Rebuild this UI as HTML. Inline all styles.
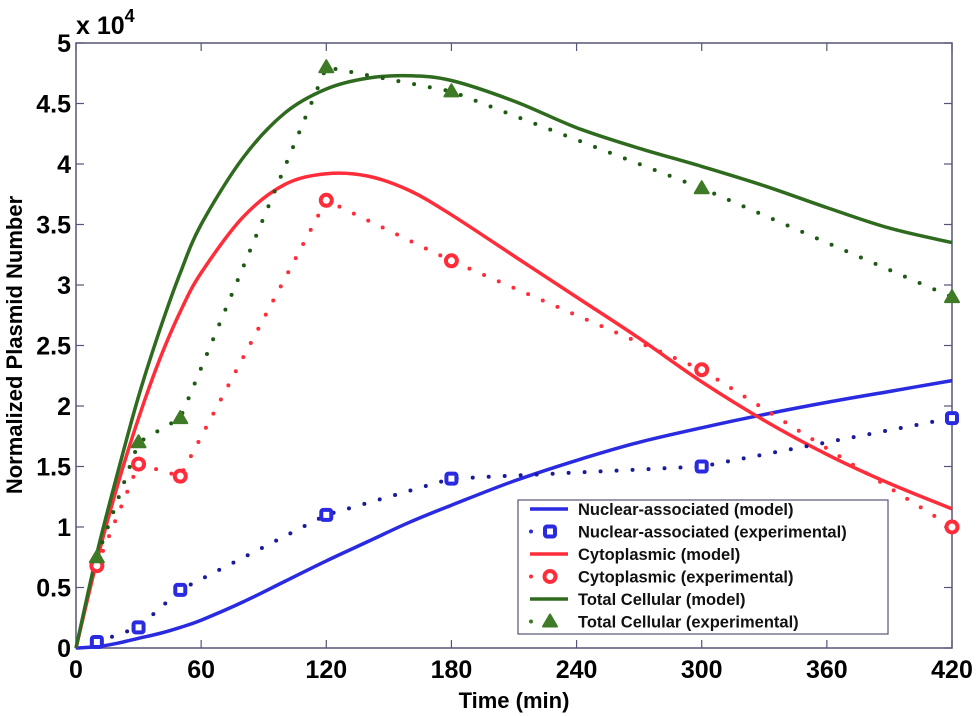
<!DOCTYPE html>
<html><head><meta charset="utf-8"><style>
body{margin:0;background:#fff;}
svg{display:block;font-family:"Liberation Sans",sans-serif;}
</style></head><body>
<svg id="chart" width="977" height="716" viewBox="0 0 977 716">
<g id="axes"></g><g id="series"></g><g id="legend"></g>
</svg>
<script>
const expTimes=[10,30,50,120,180,300,420];
const nucExp=[0.05,0.17,0.48,1.1,1.4,1.5,1.9];
const cytoExp=[0.68,1.52,1.42,3.7,3.2,2.3,1.0];
const totExp=[0.75,1.7,1.9,4.8,4.6,3.8,2.9];
const modelTimes=[0,10,20,30,40,50,60,80,100,120,140,160,180,210,240,270,300,330,360,390,420];
const nucModel=[0,0.01,0.04,0.08,0.12,0.17,0.23,0.38,0.55,0.72,0.88,1.04,1.18,1.38,1.55,1.7,1.82,1.93,2.03,2.12,2.21];
const cytoModel=[0,0.72,1.35,1.9,2.38,2.78,3.1,3.56,3.83,3.92,3.9,3.78,3.58,3.24,2.9,2.56,2.2,1.88,1.6,1.36,1.15];
const totModel=[0,0.78,1.45,2.08,2.62,3.1,3.5,4.05,4.42,4.62,4.71,4.73,4.69,4.52,4.3,4.13,3.98,3.82,3.64,3.47,3.35];
const xTicks=[0,60,120,180,240,300,360,420];
const yTicks=[0,0.5,1,1.5,2,2.5,3,3.5,4,4.5,5];
const yTickLabels=["0","0.5","1","1.5","2","2.5","3","3.5","4","4.5","5"];

const L=76,R=952,T=43,B=648;
const X=t=>L+(t/420)*(R-L);
const Y=v=>B-(v/5)*(B-T);
const NS="http://www.w3.org/2000/svg";
function mk(parent,tag,attrs){const e=document.createElementNS(NS,tag);for(const k in attrs)e.setAttribute(k,attrs[k]);parent.appendChild(e);return e;}
const axes=document.getElementById('axes'),series=document.getElementById('series'),legend=document.getElementById('legend');

const frame=mk(axes,'rect',{x:L,y:T,width:R-L,height:B-T,fill:'none',stroke:'#555577','stroke-width':1.5});


xTicks.forEach(t=>{
  mk(axes,'line',{x1:X(t),x2:X(t),y1:B,y2:B-8,stroke:'#555577','stroke-width':1.2});
  mk(axes,'line',{x1:X(t),x2:X(t),y1:T,y2:T+8,stroke:'#555577','stroke-width':1.2});
  const tx=mk(axes,'text',{x:X(t),y:B+30,'text-anchor':'middle','font-size':25,'font-weight':'bold',fill:'#000'});
  tx.textContent=t;
  
  
});
yTicks.forEach((v,i)=>{
  mk(axes,'line',{x1:L,x2:L+8,y1:Y(v),y2:Y(v),stroke:'#555577','stroke-width':1.2});
  mk(axes,'line',{x1:R,x2:R-8,y1:Y(v),y2:Y(v),stroke:'#555577','stroke-width':1.2});
  const tx=mk(axes,'text',{x:L-5,y:Y(v)+9,'text-anchor':'end','font-size':25,'font-weight':'bold',fill:'#000'});
  tx.textContent=yTickLabels[i];
  
  
});
const exp=mk(axes,'text',{x:76,y:34,'font-size':25,'font-weight':'bold',fill:'#000'});
exp.innerHTML='x 10<tspan dy="-12" font-size="18">4</tspan>';


const xt=mk(axes,'text',{x:514,y:708,'text-anchor':'middle','font-size':22,'font-weight':'bold',fill:'#000'});
xt.textContent='Time (min)';


const yt=mk(axes,'text',{x:22,y:345,'text-anchor':'middle','font-size':22,'font-weight':'bold',fill:'#000',transform:'rotate(-90 22 345)'});
yt.textContent='Normalized Plasmid Number';



function path(ts,vs){return ts.map((t,i)=>(i?'L':'M')+X(t).toFixed(1)+','+Y(vs[i]).toFixed(1)).join(' ');}
function smooth(ts,vs){
  const p=ts.map((t,i)=>[X(t),Y(vs[i])]);
  let d='M'+p[0][0].toFixed(1)+','+p[0][1].toFixed(1);
  for(let i=0;i<p.length-1;i++){
    const p0=p[Math.max(0,i-1)],p1=p[i],p2=p[i+1],p3=p[Math.min(p.length-1,i+2)];
    const c1=[p1[0]+(p2[0]-p0[0])/6,p1[1]+(p2[1]-p0[1])/6];
    const c2=[p2[0]-(p3[0]-p1[0])/6,p2[1]-(p3[1]-p1[1])/6];
    d+=` C${c1[0].toFixed(1)},${c1[1].toFixed(1)} ${c2[0].toFixed(1)},${c2[1].toFixed(1)} ${p2[0].toFixed(1)},${p2[1].toFixed(1)}`;
  }
  return d;
}
function modelLine(vs,col,name){
  const p=mk(series,'path',{d:smooth(modelTimes,vs),fill:'none',stroke:col,'stroke-width':3.5,'stroke-linejoin':'round'});
  
  
}
function expLine(vs,col,name){
  const p=mk(series,'path',{d:path(expTimes,vs),fill:'none',stroke:col,'stroke-width':4,'stroke-linecap':'round','stroke-dasharray':'0 16'});
  
  
}
function marker(g,kind,x,y,col){
  let m;
  if(kind==='sq'){m=mk(g,'rect',{x:x-5,y:y-5,width:10,height:10,rx:2,fill:'#fff',stroke:col,'stroke-width':4});}
  else if(kind==='ci'){m=mk(g,'circle',{cx:x,cy:y,r:5.5,fill:'#fff',stroke:col,'stroke-width':4});}
  else {m=mk(g,'path',{d:`M${x},${y-7} L${x+7},${y+5} L${x-7},${y+5} Z`,fill:col,stroke:col,'stroke-width':2,'stroke-linejoin':'round'});}
  return m;
}
modelLine(nucModel,'#2a2ae0','nuclear-model-line');
modelLine(cytoModel,'#ff2d3a','cytoplasmic-model-line');
modelLine(totModel,'#2f6b1e','total-model-line');
expLine(nucExp,'#1a1a9a','nuclear-exp-line');
expLine(cytoExp,'#ff2d3a','cytoplasmic-exp-line');
expLine(totExp,'#1f5a14','total-exp-line');
expTimes.forEach((t,i)=>{
  const a=marker(series,'sq',X(t),Y(nucExp[i]),'#2a2ae0');
  
  
  const b=marker(series,'ci',X(t),Y(cytoExp[i]),'#ff2d3a');
  
  
  const c=marker(series,'tri',X(t),Y(totExp[i]),'#3f7a26');
  
  
});

const box=mk(legend,'rect',{x:518,y:500,width:370,height:134,fill:'#fff',stroke:'#555577','stroke-width':1.2});


const entries=[['Nuclear-associated (model)','line','#2a2ae0'],['Nuclear-associated (experimental)','sq','#2a2ae0'],['Cytoplasmic (model)','line','#ff2d3a'],['Cytoplasmic (experimental)','ci','#ff2d3a'],['Total Cellular (model)','line','#2f6b1e'],['Total Cellular (experimental)','tri','#3f7a26']];
entries.forEach((e,i)=>{
  const y=509+i*22.5;
  const g=mk(legend,'g',{});
  
  
  if(e[1]==='line') mk(g,'line',{x1:530,x2:568,y1:y,y2:y,stroke:e[2],'stroke-width':3.5});
  else {mk(g,'circle',{cx:531,cy:y,r:2,fill:e[2]});marker(g,e[1],550,y,e[2]);}
  const t=mk(g,'text',{x:578,y:y+6,'font-size':16.5,'font-weight':'bold',fill:'#111'});
  t.textContent=e[0];
});
</script>
</body></html>
